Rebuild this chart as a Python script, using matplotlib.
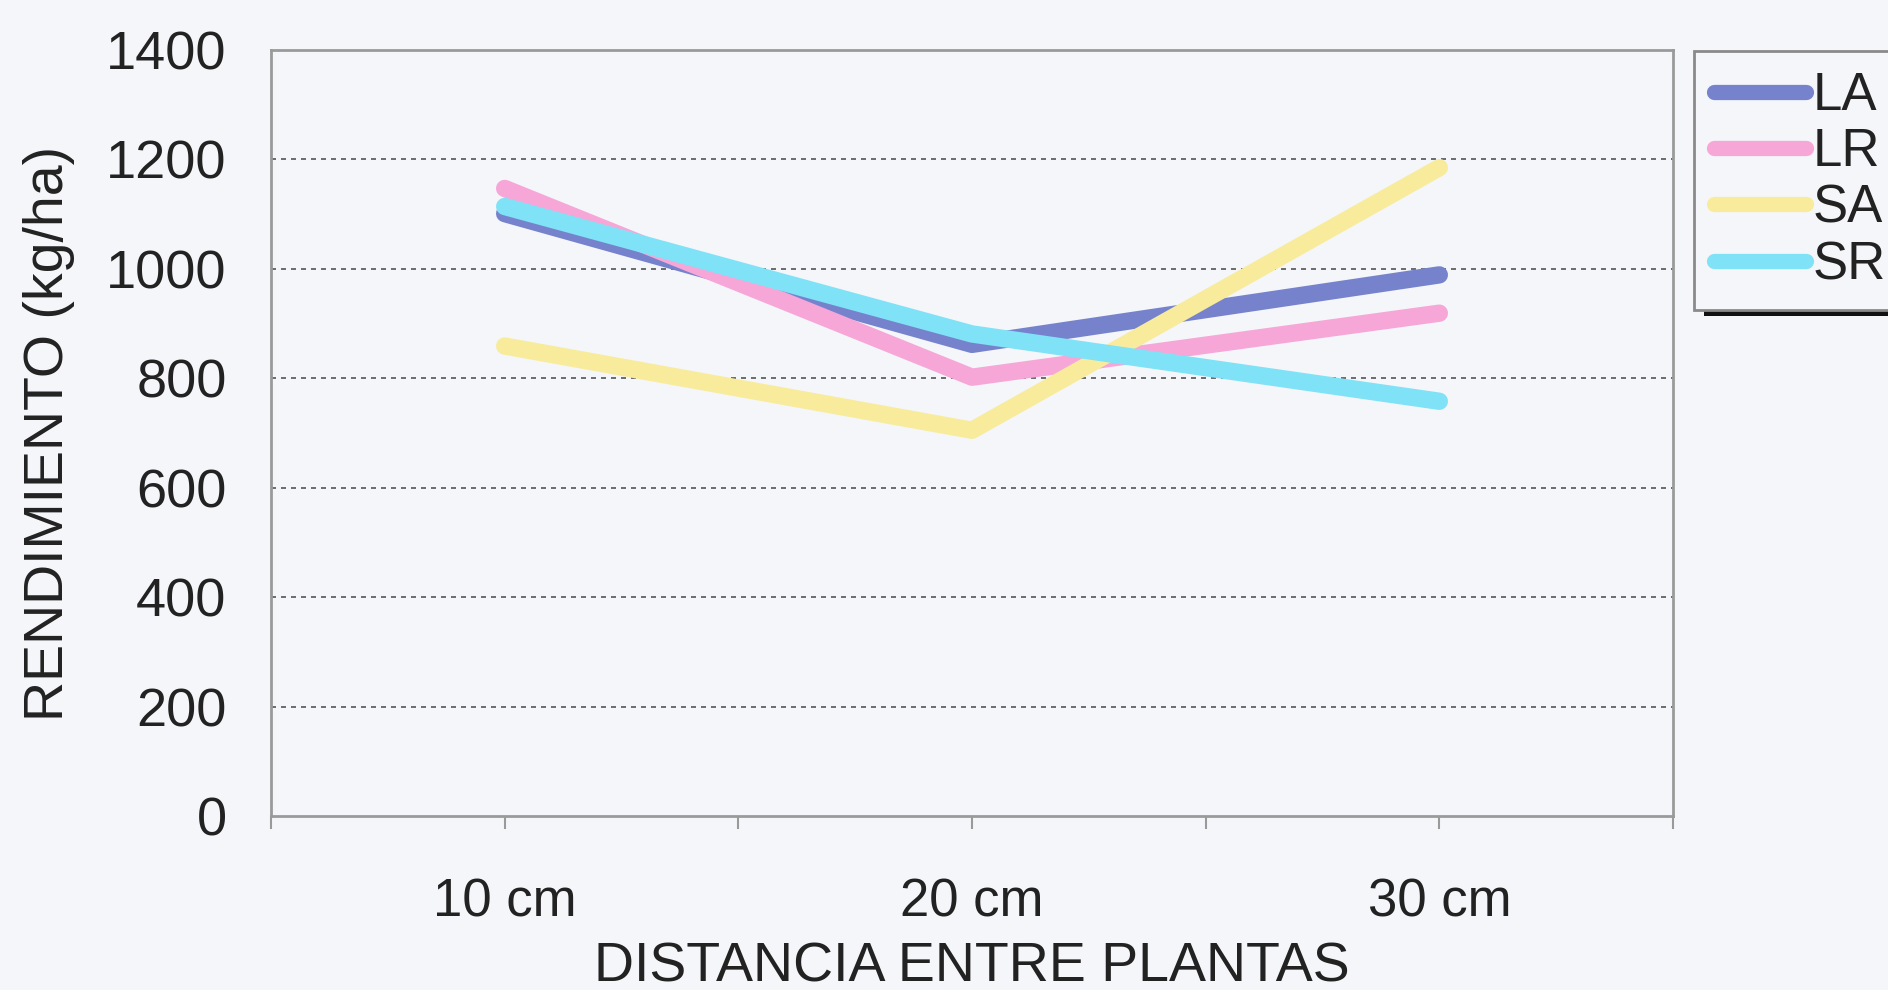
import matplotlib
matplotlib.use("Agg")
import matplotlib.pyplot as plt
from matplotlib.patches import Rectangle

plt.rcParams['font.family'] = ['Liberation Sans', 'DejaVu Sans']

# Yield by plant spacing for four varieties
distancias = ["10 cm", "20 cm", "30 cm"]
series_names = ["LA", "LR", "SA", "SR"]
la = [1101, 862, 989]
lr = [1147, 802, 919]
sa = [859, 705, 1185]
sr = [1114, 881, 758]
yticks = [0, 200, 400, 600, 800, 1000, 1200, 1400]

colors = ["#7683cc", "#f7a6d8", "#f8ec9c", "#80e2f6"]
bg = "#f4f6f9"

fig = plt.figure(figsize=(18.88, 9.90), dpi=100, facecolor=bg)
ax = fig.add_axes([271 / 1888, 1 - 816 / 990, (1673 - 271) / 1888, (816 - 50) / 990])
ax.set_facecolor(bg)

# categories sit on every other slot of a six-slot axis
xpos = [1, 3, 5]
for vals, name, c in zip([la, lr, sa, sr], series_names, colors):
    ax.plot(xpos, vals, color=c, lw=12.5, solid_capstyle='round',
            solid_joinstyle='round', label=name, zorder=3)

ax.set_xlim(0, 6)
ax.set_ylim(0, 1400)
ax.set_yticks(yticks)
ax.set_yticklabels([str(v) for v in yticks], fontsize=39)
ax.tick_params(axis='y', length=0, pad=32, colors='#222222')

ax.set_xticks(range(7))
labels = ["", distancias[0], "", distancias[1], "", distancias[2], ""]
ax.set_xticklabels(labels, fontsize=38)
ax.tick_params(axis='x', length=9, width=1.5, color='#9a9a9a', pad=35,
               labelcolor='#222222', direction='out')

for y in yticks[1:-1]:
    ax.axhline(y, color='#555555', lw=1.2, ls=(0, (3, 3)), zorder=1)

for s in ax.spines.values():
    s.set_color('#9a9a9a')
    s.set_linewidth(2)

ax.set_xlabel("DISTANCIA ENTRE PLANTAS", fontsize=40, color='#222222', labelpad=10)
ax.set_ylabel("RENDIMIENTO (kg/ha)", fontsize=40, color='#222222', labelpad=22)

leg = fig.legend(loc='upper left', bbox_to_anchor=(1694 / 1888, 1 - 51 / 990),
                 borderaxespad=0, fontsize=38, handlelength=1.75, handletextpad=0.12,
                 borderpad=0.38, labelspacing=0.12, frameon=True, fancybox=False,
                 framealpha=1.0)
leg.get_frame().set_edgecolor('#8a8a8a')
leg.get_frame().set_linewidth(2)
leg.get_frame().set_facecolor(bg)
leg.set_zorder(5)
for line in leg.get_lines():
    line.set_linewidth(11)
for t in leg.get_texts():
    t.set_color('#222222')

# heavy drop shadow along the bottom of the legend box
fig.canvas.draw()
bb = leg.get_window_extent().transformed(fig.transFigure.inverted())
fig.patches.append(Rectangle((bb.x0 + 10 / 1888, bb.y0 - 6 / 990), bb.width, bb.height,
                             transform=fig.transFigure, facecolor='#111111',
                             edgecolor='none', zorder=4))

fig.savefig("out.png", dpi=100, facecolor=bg)
